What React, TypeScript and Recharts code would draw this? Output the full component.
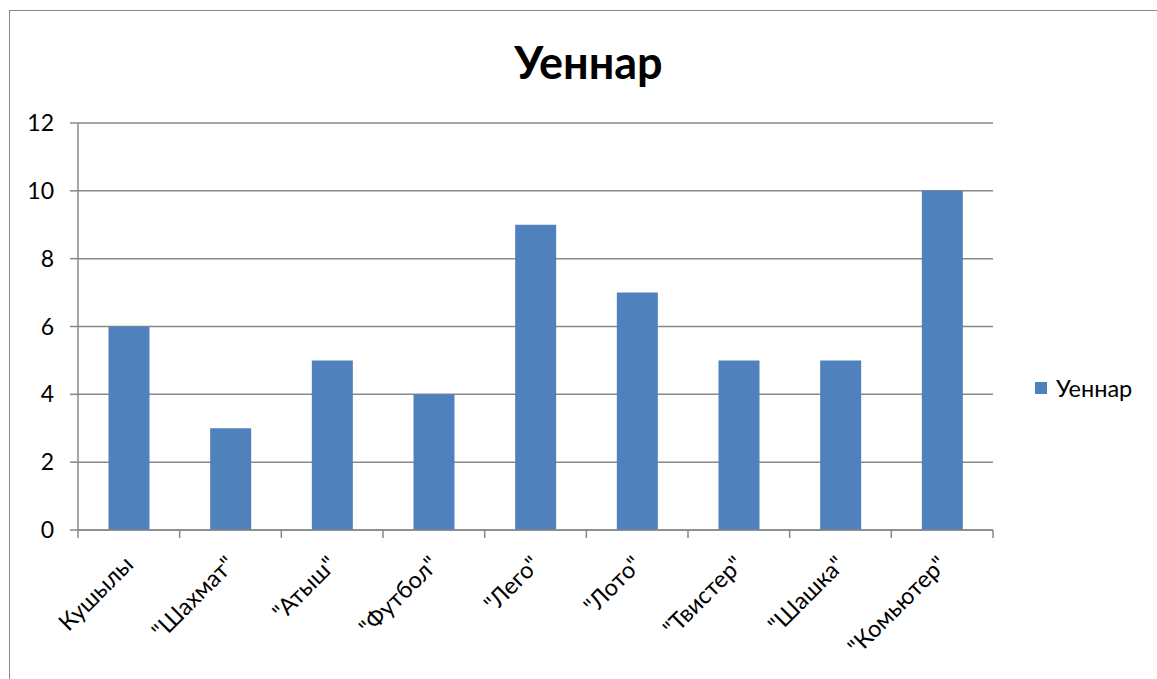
import React from "react";
import { BarChart, Bar, XAxis, YAxis, CartesianGrid } from "recharts";

const categories = ["Кушылы", "\"Шахмат\"", "\"Атыш\"", "\"Футбол\"", "\"Лего\"", "\"Лото\"", "\"Твистер\"", "\"Шашка\"", "\"Комьютер\""];
const values = [6, 3, 5, 4, 9, 7, 5, 5, 10];
const yTicks = [0, 2, 4, 6, 8, 10, 12];
const seriesName = "Уеннар";

const data = categories.map((c, i) => ({ name: c, value: values[i] }));

const W = 1157;
const H = 679;
const XH = 149;
const M = { top: 123, right: 164, bottom: 0, left: 18 };
const YW = 60;
const plotW = W - M.left - M.right - YW;
const band = plotW / categories.length;
const FONT = "Lato, 'Open Sans', sans-serif";
const GRAY = "#888888";
const BLUE = "#4F81BD";

const XTick = (props: any) => {
  const { x, y, payload, index } = props;
  const left = x - band / 2;
  const isLast = index === categories.length - 1;
  const ax = x + 6;
  const ay = y + 28;
  return (
    <g>
      <line x1={left} y1={y - 8} x2={left} y2={y} stroke={GRAY} strokeWidth={1.5} />
      {isLast && <line x1={x + band / 2} y1={y - 8} x2={x + band / 2} y2={y} stroke={GRAY} strokeWidth={1.5} />}
      <text
        x={ax}
        y={ay}
        transform={`rotate(-45 ${ax} ${ay})`}
        textAnchor="end"
        fontSize={23.5}
        fill="#000"
        fontFamily={FONT}
      >
        {payload.value}
      </text>
    </g>
  );
};

export default function App() {
  return (
    <div style={{ position: "fixed", left: 0, top: 0, width: W, height: H, overflow: "hidden", background: "#fff" }}>
      <div
        style={{
          position: "absolute",
          left: 9,
          top: 10,
          width: W + 50,
          height: H + 50,
          border: `1.5px solid ${GRAY}`,
          boxSizing: "border-box",
        }}
      />
      <div
        style={{
          position: "absolute",
          left: 0,
          width: W,
          top: 34,
          textAlign: "center",
          fontFamily: FONT,
          fontWeight: 700,
          fontSize: 45,
          lineHeight: "56px",
          color: "#000",
          paddingLeft: 20,
          boxSizing: "border-box",
        }}
      >
        {seriesName}
      </div>
      <div
        style={{
          position: "absolute",
          left: 1035,
          top: 375,
          display: "flex",
          alignItems: "center",
          fontFamily: FONT,
          fontSize: 23.5,
          lineHeight: "26px",
          color: "#000",
        }}
      >
        <span style={{ display: "inline-block", width: 12, height: 12, background: BLUE, marginRight: 9 }} />
        <span>{seriesName}</span>
      </div>
      <div style={{ position: "absolute", left: 0, top: 0 }}>
        <BarChart width={W} height={H} data={data} margin={M} barCategoryGap="30%">
          <CartesianGrid vertical={false} stroke={GRAY} strokeWidth={1.5} />
          <XAxis
            dataKey="name"
            interval={0}
            tickLine={false}
            axisLine={{ stroke: GRAY, strokeWidth: 1.5 }}
            tick={<XTick />}
            height={XH}
          />
          <YAxis
            width={YW}
            domain={[0, 12]}
            ticks={yTicks}
            interval={0}
            tickSize={8}
            tickLine={{ stroke: GRAY, strokeWidth: 1.5 }}
            axisLine={{ stroke: GRAY, strokeWidth: 1.5 }}
            tick={{ fill: "#000", fontSize: 23, fontFamily: FONT }}
            tickMargin={16}
          />
          <Bar dataKey="value" name={seriesName} fill={BLUE} isAnimationActive={false} />
        </BarChart>
      </div>
    </div>
  );
}
